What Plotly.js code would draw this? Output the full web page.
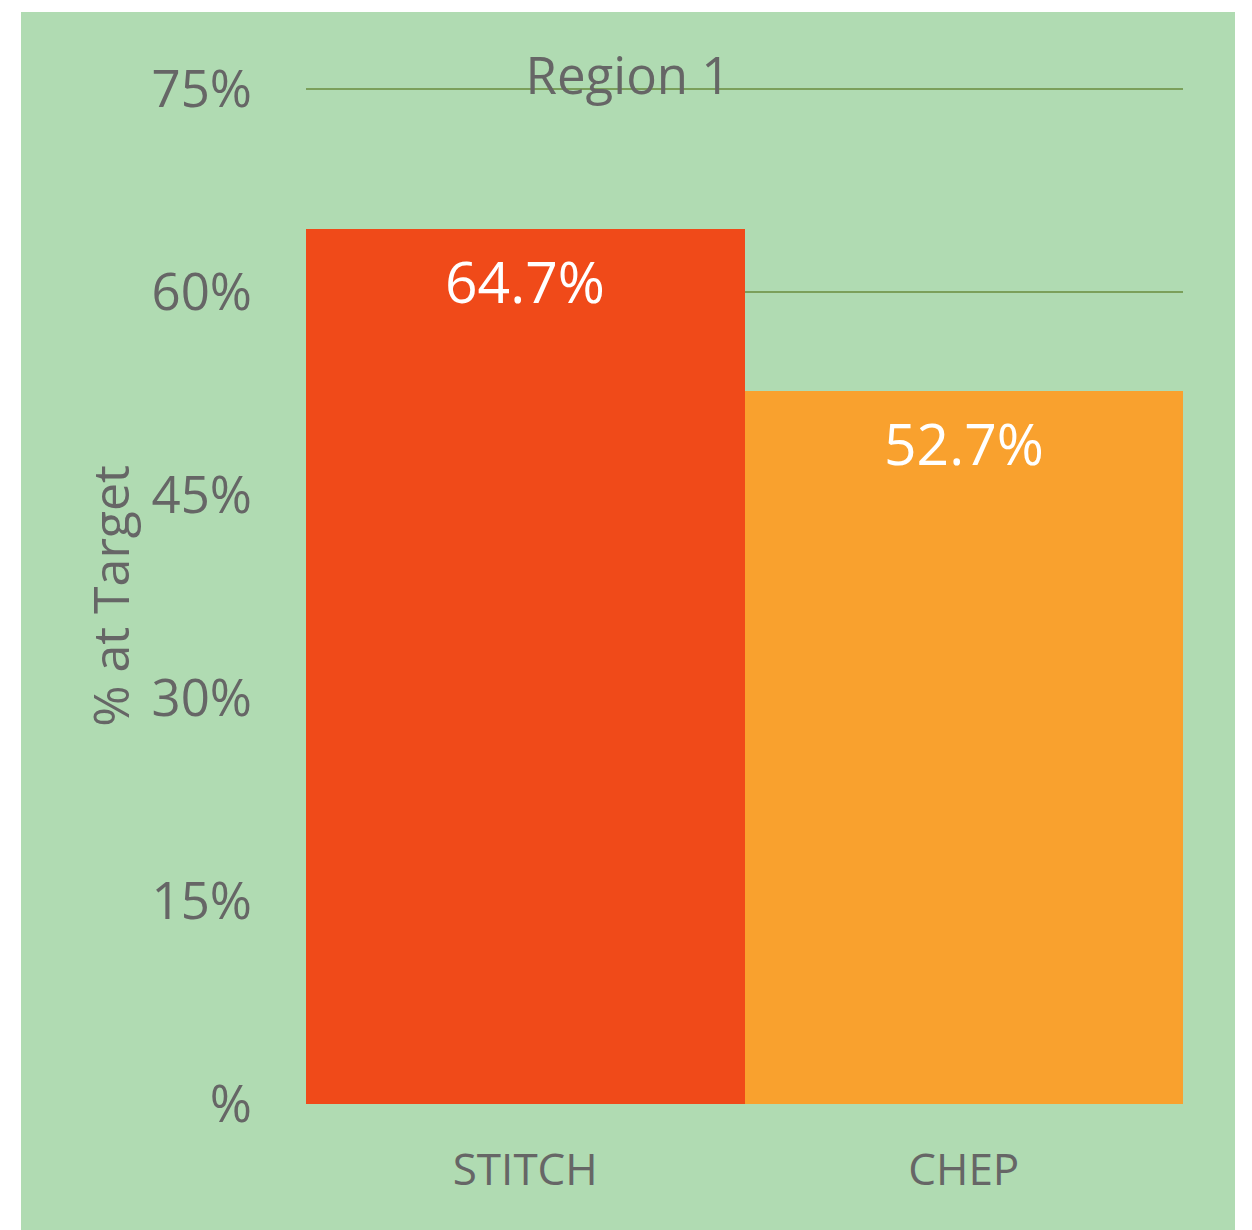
<!DOCTYPE html>
<html>
<head>
<meta charset="utf-8">
<script src="https://cdn.plot.ly/plotly-3.0.1.min.js"></script>
<style>
html,body{margin:0;padding:0;background:#ffffff;width:1252px;height:1230px;overflow:hidden;}
#chart{position:absolute;left:21px;top:12px;width:1214px;height:1218px;}
</style>
</head>
<body>
<div id="chart"></div>
<script>
const categories = ["STITCH", "CHEP"];
const values = [0.647, 0.527];
const valueLabels = ["64.7%", "52.7%"];
const barColors = ["#f04a19", "#f9a12e"];
const yTickVals = [0, 0.15, 0.30, 0.45, 0.60, 0.75];
const yTickText = ["%", "15%", "30%", "45%", "60%", "75%"];
const chartTitle = "Region 1";
const yTitle = "% at Target";

const trace = {
  type: "bar",
  x: categories,
  y: values,
  marker: {color: barColors, line: {width: 0}},
  hoverinfo: "none"
};

const labelAnnotations = categories.map((c, i) => ({
  x: c,
  y: values[i],
  xref: "x",
  yref: "y",
  text: valueLabels[i],
  showarrow: false,
  xanchor: "center",
  yanchor: "top",
  yshift: -11,
  font: {family: "Open Sans", size: 57, color: "#ffffff"}
}));

const layout = {
  width: 1214,
  height: 1218,
  paper_bgcolor: "#b0dbb2",
  plot_bgcolor: "rgba(0,0,0,0)",
  margin: {l: 285, r: 52, t: 76, b: 126},
  bargap: 0,
  showlegend: false,
  font: {family: "Open Sans", color: "#666666"},
  title: {
    text: chartTitle,
    font: {family: "Open Sans", size: 51, color: "#666666"},
    x: 0.5, xref: "container", xanchor: "center",
    y: 0.947, yref: "container", yanchor: "middle"
  },
  annotations: labelAnnotations,
  xaxis: {
    type: "category",
    showgrid: false,
    zeroline: false,
    showline: false,
    ticks: "",
    ticklabelstandoff: 36,
    tickfont: {family: "Open Sans", size: 44, color: "#666666"}
  },
  yaxis: {
    range: [0, 0.751],
    tickvals: yTickVals,
    ticktext: yTickText,
    showgrid: true,
    gridcolor: "#7ba05b",
    gridwidth: 2,
    zeroline: false,
    showline: false,
    ticks: "",
    ticklabelstandoff: 53,
    tickfont: {family: "Open Sans", size: 51, color: "#666666"},
    title: {text: yTitle, standoff: 6, font: {family: "Open Sans", size: 50, color: "#666666"}},
    automargin: false
  }
};

Plotly.newPlot("chart", [trace], layout, {displayModeBar: false, staticPlot: true});
</script>
</body>
</html>
